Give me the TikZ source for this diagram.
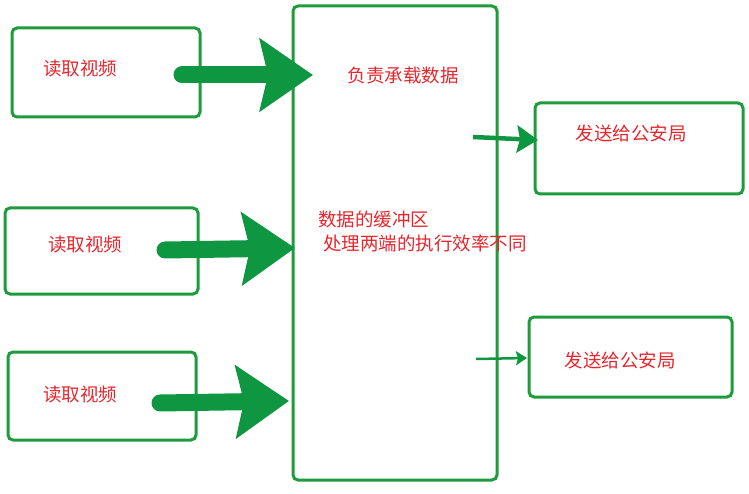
\documentclass[tikz,border=0pt]{standalone}
\usepackage{fontspec}
\newfontfamily\cjk{Noto Sans CJK SC}
\usepackage{tikz}
\usetikzlibrary{arrows.meta, positioning}
\definecolor{boxgreen}{HTML}{1E9B3C}
\definecolor{arrowgreen}{HTML}{0E9641}
\definecolor{textred}{HTML}{E5262D}

\begin{document}
\begin{tikzpicture}[
  x=1pt, y=-1pt,
  box/.style={draw=boxgreen, line width=3pt, rounded corners=5pt, inner sep=0pt},
  label/.style={text=textred, font=\cjk\fontsize{18.5}{22}\selectfont, inner sep=0pt},
  bigarrow/.style={draw=arrowgreen, line width=17pt, line cap=round,
    -{Stealth[length=53pt, width=72pt, inset=8pt]}},
  smallarrow/.style={draw=arrowgreen, line width=4.5pt,
    -{Stealth[length=21pt, width=27pt, inset=3pt]}},
  thinarrow/.style={draw=arrowgreen, line width=2.5pt,
    -{Stealth[length=11pt, width=14pt, inset=2pt]}},
]
\useasboundingbox (0,0) rectangle (749,494);

% Nodes
\node[box, minimum width=188pt, minimum height=89pt] (read1) at (106,72.5) {};
\node[box, minimum width=193pt, minimum height=86pt] (read2) at (101.5,251) {};
\node[box, minimum width=188pt, minimum height=88pt] (read3) at (102,396) {};
\node[box, minimum width=204pt, minimum height=474pt] (buf) at (395,243) {};
\node[box, minimum width=208pt, minimum height=91pt] (send1) at (639,148.5) {};
\node[box, minimum width=203pt, minimum height=80pt] (send2) at (630.5,357) {};

\node[label] (t1) at (80,69) {读取视频};
\node[label] (t2) at (85,245) {读取视频};
\node[label] (t3) at (80,395) {读取视频};
\node[label] (bufa) at (403,75) {负责承载数据};
\node[label, anchor=west] (bufb) at (318,219) {数据的缓冲区};
\node[label, anchor=west] (bufc) at (323,243) {处理两端的执行效率不同};
\node[label] (s1) at (631,133) {发送给公安局};
\node[label] (s2) at (620,360) {发送给公安局};

% Arrow ends
\coordinate (a1) at (182,75);
\coordinate (b1) at (313,75);
\coordinate (a2) at (165,250);
\coordinate (b2) at (295,248);
\coordinate (a3) at (160,403);
\coordinate (b3) at (289,401);
\coordinate (a4) at (473,137);
\coordinate (b4) at (538,140);
\coordinate (a5) at (476,359);
\coordinate (b5) at (527,358);

% Arrows
\draw[bigarrow] (a1) -- (b1);
\draw[bigarrow] (a2) -- (b2);
\draw[bigarrow] (a3) -- (b3);
\draw[smallarrow] (a4) -- (b4);
\draw[thinarrow] (a5) -- (b5);

\end{tikzpicture}
\end{document}
